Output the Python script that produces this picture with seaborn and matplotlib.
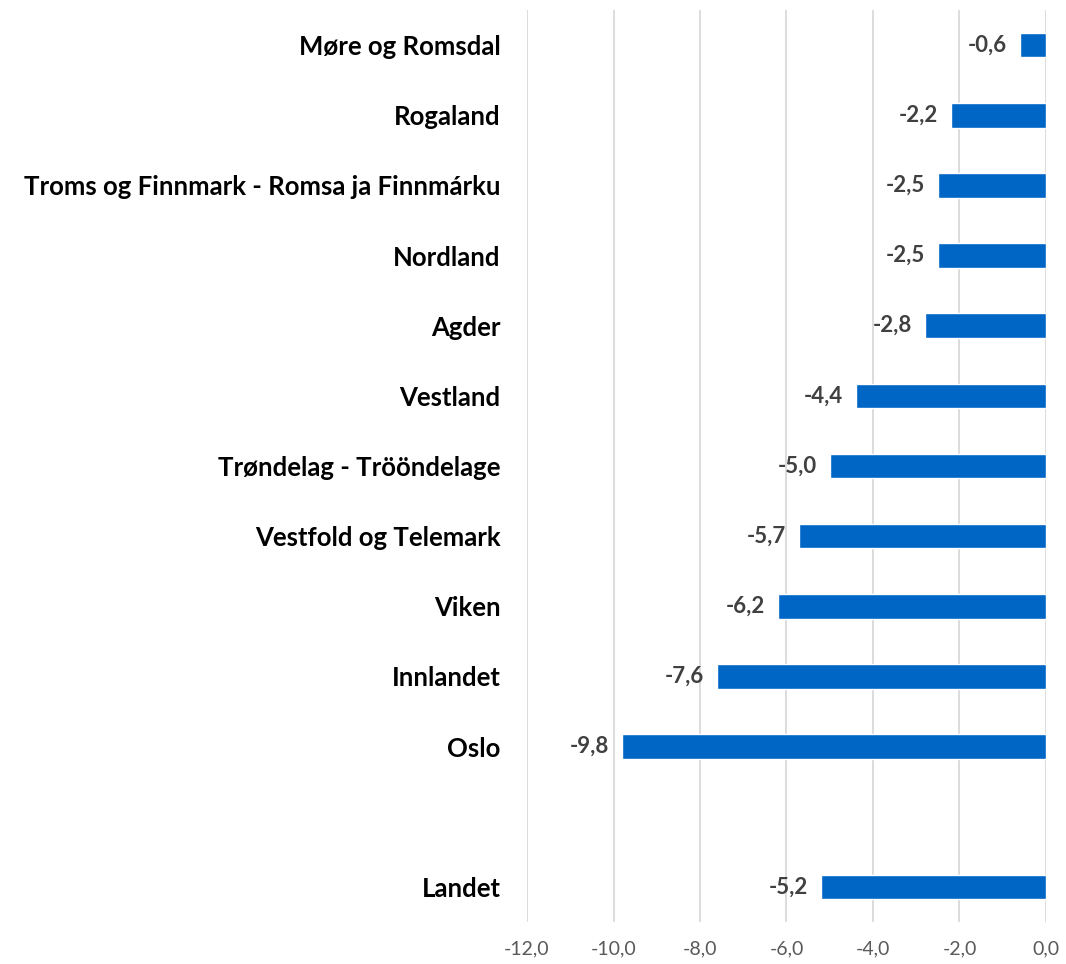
import pandas as pd
import matplotlib.pyplot as plt
import seaborn as sns

regions = ["Møre og Romsdal", "Rogaland", "Troms og Finnmark - Romsa ja Finnmárku",
           "Nordland", "Agder", "Vestland", "Trøndelag - Trööndelage",
           "Vestfold og Telemark", "Viken", "Innlandet", "Oslo", "Landet"]
change = [-0.6, -2.2, -2.5, -2.5, -2.8, -4.4, -5.0, -5.7, -6.2, -7.6, -9.8, -5.2]
# empty slot between Oslo and Landet
order = regions[:-1] + [" "] + regions[-1:]

df = pd.DataFrame({"region": regions, "change": change})

sns.set_style("white")
plt.rcParams["font.family"] = ["Lato", "DejaVu Sans"]

fig = plt.figure(figsize=(10.66, 9.64), dpi=100)
ax = fig.add_axes([0.4944, 0.0436, 0.4868, 0.946])

sns.barplot(data=df, x="change", y="region", order=order, color="#0066C6",
            width=0.35, saturation=1, ax=ax)

for bar, v in zip(ax.patches, change):
    if bar.get_width() != bar.get_width():
        continue
    y = bar.get_y() + bar.get_height() / 2
    ax.text(bar.get_width() - 0.3, y, f"{v:.1f}".replace(".", ","), ha="right", va="center",
            fontsize=16, fontweight="bold", color="#404040")

ax.set_xlim(-12, 0)
ax.set_xticks(range(-12, 1, 2))
ax.set_xticklabels([f"{t:.1f}".replace(".", ",") for t in range(-12, 1, 2)],
                   fontsize=14, color="#595959")
ax.tick_params(axis="x", length=0, pad=13)
ax.tick_params(axis="y", length=0, pad=19)
for lbl in ax.get_yticklabels():
    lbl.set_fontsize(18.5)
    lbl.set_fontweight("bold")
    lbl.set_color("black")
ax.grid(axis="x", color="#D9D9D9", linewidth=1.3)
ax.set_axisbelow(True)
for s in ax.spines.values():
    s.set_visible(False)
ax.set_xlabel("")
ax.set_ylabel("")

plt.savefig("out.png", dpi=100)
